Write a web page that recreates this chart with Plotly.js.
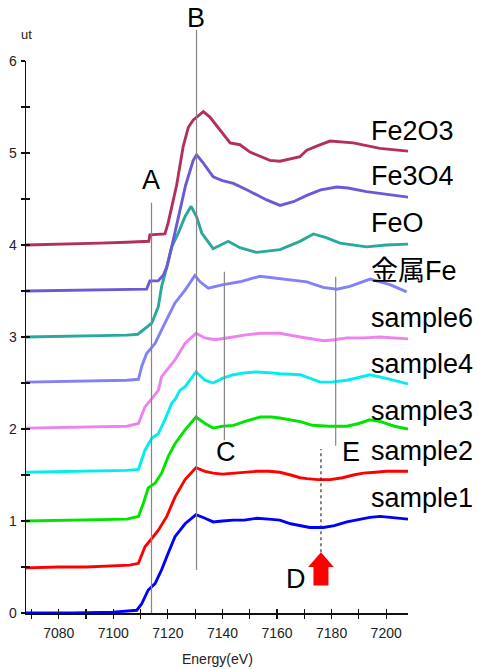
<!DOCTYPE html>
<html>
<head>
<meta charset="utf-8">
<script src="https://cdn.plot.ly/plotly-3.0.1.min.js"></script>
<style>html,body{margin:0;padding:0;background:#fff;}#chart{width:478px;height:669px;}</style>
</head>
<body>
<div id="chart"></div>
<script>
// ---- data ----
const seriesNames = ["sample1","sample2","sample3","sample4","sample6","金属Fe","FeO","Fe3O4","Fe2O3"];

const sample1E = [7068,7085,7100,7108.6,7110.4,7112.8,7115.3,7117.7,7120.1,7122.6,7126.3,7130.3,7133.6,7136.6,7140,7144,7148,7152.6,7157,7161,7165,7168.5,7172,7177,7181,7185.6,7190,7194,7197.8,7202,7208];
const sample1Y = [0.00,0.00,0.01,0.03,0.10,0.25,0.32,0.47,0.65,0.83,0.97,1.07,1.03,0.99,1.00,1.01,1.01,1.03,1.02,1.01,0.97,0.95,0.93,0.93,0.95,0.99,1.02,1.04,1.05,1.04,1.02];

const sample2E = [7068,7080,7090,7100,7106,7109.2,7111.6,7114.1,7116.5,7119.6,7122.6,7126.3,7130.3,7133.6,7136.6,7140,7144,7148,7152.6,7157,7161,7165,7168.5,7171,7175,7179.5,7184,7188,7191.6,7196,7200,7204,7208];
const sample2Y = [0.49,0.50,0.50,0.51,0.52,0.54,0.72,0.81,0.90,1.05,1.26,1.45,1.58,1.54,1.52,1.51,1.52,1.53,1.54,1.54,1.53,1.50,1.47,1.46,1.45,1.45,1.47,1.50,1.52,1.53,1.54,1.54,1.54];

const sample3E = [7068,7090,7105,7109.2,7111.0,7112.8,7115.3,7117.7,7120.1,7122.6,7126.3,7130.3,7133.6,7136.6,7140,7144,7148,7153.9,7158,7161,7165,7168.5,7173,7179,7185.6,7190,7194,7198,7203,7208];
const sample3Y = [1.00,1.01,1.02,1.05,1.19,1.36,1.41,1.52,1.70,1.84,1.99,2.13,2.06,2.01,2.03,2.04,2.08,2.13,2.13,2.12,2.10,2.08,2.04,2.03,2.03,2.06,2.10,2.08,2.03,2.00];

const sample4E = [7068,7090,7105,7109.2,7110.4,7111.6,7114.1,7116.5,7118.9,7121.4,7122.6,7124.4,7126.3,7130.3,7133.6,7136.6,7140,7144,7148,7152.6,7158,7161,7168.5,7172,7175.8,7180,7185.6,7190,7194,7200,7208];
const sample4Y = [1.53,1.54,1.55,1.56,1.66,1.77,1.90,1.95,2.10,2.28,2.32,2.42,2.46,2.62,2.53,2.50,2.55,2.59,2.61,2.62,2.61,2.60,2.59,2.55,2.51,2.51,2.53,2.56,2.59,2.55,2.49];

const sample6E = [7068,7090,7105,7109.2,7110.4,7111.6,7114.1,7116.5,7117.7,7122.6,7126.3,7130.3,7133.6,7137.3,7144,7148,7153.9,7161,7168.5,7173,7177,7181,7185.6,7192,7197.7,7208];
const sample6Y = [2.01,2.02,2.03,2.06,2.15,2.24,2.33,2.42,2.57,2.75,2.93,3.04,2.99,2.97,3.00,3.02,3.04,3.04,3.00,2.98,2.96,2.97,2.99,2.99,3.00,2.98];

const feMetalE = [7068,7090,7105,7109.2,7110.4,7112.2,7115.3,7118.9,7122.6,7126.3,7129.9,7131.8,7134.8,7140.3,7146.4,7153.7,7162.3,7170.9,7176.9,7181.9,7186.7,7194.1,7201.4,7207.5];
const feMetalY = [2.51,2.52,2.53,2.54,2.68,2.82,2.93,3.15,3.37,3.51,3.67,3.60,3.53,3.57,3.60,3.66,3.63,3.60,3.54,3.52,3.55,3.63,3.57,3.49];

const feOE = [7068,7090,7105,7109,7111.6,7114.1,7116.5,7117.7,7119.6,7121.4,7123.8,7126.3,7128.5,7130.5,7132.4,7136.6,7142.1,7146.4,7152.5,7161.1,7168.4,7173.3,7178,7183.1,7192.8,7200,7208];
const feOY = [3.00,3.01,3.02,3.03,3.09,3.15,3.33,3.55,3.76,3.98,4.13,4.31,4.42,4.31,4.13,3.96,4.04,3.97,3.92,3.95,4.04,4.12,4.08,4.02,3.98,4.00,4.01];

const fe3o4E = [7068,7090,7105,7112.2,7113.4,7116.4,7118.3,7119.6,7121.4,7123.8,7126.5,7129.3,7130.5,7133,7136.6,7140,7144,7148.9,7156.2,7161.1,7166,7170.9,7176,7181.9,7186,7192.8,7200,7208];
const fe3o4Y = [3.50,3.51,3.52,3.52,3.61,3.61,3.67,3.76,3.98,4.31,4.65,4.92,4.98,4.89,4.74,4.70,4.67,4.60,4.49,4.43,4.47,4.54,4.60,4.63,4.62,4.58,4.55,4.52];

const fe2o3E = [7068,7085,7095,7105,7113,7113.4,7118.9,7120.1,7121.4,7123.2,7125.6,7127.5,7129.3,7133,7135.4,7139.1,7142.8,7146.4,7150.1,7157.4,7161.1,7168.4,7170.9,7175,7179.4,7187.9,7197.7,7208];
const fe2o3Y = [4.00,4.01,4.02,4.03,4.04,4.11,4.12,4.24,4.42,4.65,5.07,5.28,5.36,5.45,5.39,5.25,5.11,5.09,5.01,4.92,4.91,4.96,5.03,5.08,5.13,5.11,5.05,5.02];

const seriesE = [sample1E,sample2E,sample3E,sample4E,sample6E,feMetalE,feOE,fe3o4E,fe2o3E];
const seriesY = [sample1Y,sample2Y,sample3Y,sample4Y,sample6Y,feMetalY,feOY,fe3o4Y,fe2o3Y];
const seriesColors = ["#0000ff","#ff0000","#00e400","#00eeee","#ee82ee","#8282f8","#2aa89c","#6a5ad6","#b3305e"];

// marker energies (eV)
const markA = 7114.0, markB = 7130.5, markC = 7140.7, markD = 7176.1, markE = 7181.5;
const xTickVals = [7080,7100,7120,7140,7160,7180,7200];
const yTickVals = [0,1,2,3,4,5,6];

// ---- traces ----
const traces = seriesNames.map((n,i)=>({
  type:'scatter', mode:'lines', name:n, x:seriesE[i], y:seriesY[i],
  line:{color:seriesColors[i], width:2.9}, hoverinfo:'skip', cliponaxis:true
}));
// invisible trace to activate overlay axes for the inner half of the ticks
traces.push({type:'scatter', mode:'lines', x:sample1E, y:sample1Y, xaxis:'x2', yaxis:'y2',
  line:{color:'rgba(0,0,0,0)', width:0}, hoverinfo:'skip', showlegend:false});

const tickFont = {family:'Liberation Sans, Arial, sans-serif', size:14, color:'#222'};
const bigFont = {family:'Liberation Sans, Arial, Noto Sans CJK JP, sans-serif', size:27, color:'#000'};

// labels positions (paper)
const labelYs = [0.2083,0.2935,0.366,0.451,0.5344,0.6196,0.7065,0.792,0.873];
const annotations = seriesNames.map((n,i)=>({
  text:n, xref:'paper', yref:'paper', x:0.9005, y:labelYs[i], xanchor:'left', yanchor:'middle',
  showarrow:false, font:bigFont, borderpad:0
}));
const letters = [["A",markA-0.2,0.7844],["B",markB-0.2,1.078],["C",markC+0.6,0.2917],["D",7166.9,0.0616],["E",7187.1,0.2917]];
letters.forEach(l=>annotations.push({text:l[0], xref:'x', yref:'paper', x:l[1], y:l[2], xanchor:'center', yanchor:'middle', showarrow:false, font:bigFont, borderpad:0}));
annotations.push({text:'ut', xref:'paper', yref:'paper', x:0.0, y:1.048, xanchor:'center', yanchor:'middle', showarrow:false, font:{family:'Liberation Sans, Arial, sans-serif', size:13, color:'#222'}});
annotations.push({text:'Energy(eV)', xref:'paper', yref:'paper', x:0.5, y:-0.083, xanchor:'center', yanchor:'middle', showarrow:false, font:{family:'Liberation Sans, Arial, sans-serif', size:14, color:'#222'}});

const grayLine = {color:'#858585', width:1.2};
const shapes = [
  {type:'line', xref:'x', yref:'paper', x0:markA, x1:markA, y0:0, y1:0.743, line:grayLine},
  {type:'line', xref:'x', yref:'paper', x0:markB, x1:markB, y0:0.078, y1:1.056, line:grayLine},
  {type:'line', xref:'x', yref:'paper', x0:markC, x1:markC, y0:0.313, y1:0.618, line:grayLine},
  {type:'line', xref:'x', yref:'paper', x0:markE, x1:markE, y0:0.303, y1:0.609, line:grayLine},
  {type:'line', xref:'x', yref:'paper', x0:markD, x1:markD, y0:0.11, y1:0.297, line:{color:'#333', width:1.2, dash:'3px,3px'}},
];
// red arrow (up) below marker D
const hw = 4.7, sw = 2.75, yTip = 0.66, yHead = 0.50, yBot = 0.30;
shapes.push({type:'path', xref:'x', yref:'y', fillcolor:'#ff0000', line:{width:0},
  path:`M ${markD-sw} ${yBot} L ${markD-sw} ${yHead} L ${markD-hw} ${yHead} L ${markD} ${yTip} L ${markD+hw} ${yHead} L ${markD+sw} ${yHead} L ${markD+sw} ${yBot} Z`});

const layout = {
  width:478, height:669,
  margin:{l:26, r:70, t:61, b:56},
  paper_bgcolor:'#fff', plot_bgcolor:'#fff',
  showlegend:false,
  xaxis:{range:[7068,7208], showgrid:false, zeroline:false, showline:true, linecolor:'#111', linewidth:1.5,
    tickmode:'array', tickvals:xTickVals, ticks:'outside', ticklen:4, tickcolor:'#111', tickwidth:1.2,
    tickfont:tickFont, ticklabelstandoff:3,
    minor:{dtick:10, tick0:7070, ticks:'outside', ticklen:4, tickcolor:'#111', tickwidth:1.2, showgrid:false}},
  yaxis:{range:[0,6], showgrid:false, zeroline:false, showline:true, linecolor:'#111', linewidth:1.5,
    tickmode:'array', tickvals:yTickVals, ticks:'outside', ticklen:4, tickcolor:'#111', tickwidth:1.2,
    tickfont:tickFont, ticklabelstandoff:1,
    minor:{dtick:0.5, tick0:0, ticks:'outside', ticklen:4, tickcolor:'#111', tickwidth:1.2, showgrid:false}},
  xaxis2:{range:[7068,7208], overlaying:'x', anchor:'y2', side:'bottom', showgrid:false, zeroline:false, showline:false,
    tick0:7070, dtick:10, ticks:'inside', ticklen:4, tickcolor:'#111', tickwidth:1.2, showticklabels:false},
  yaxis2:{range:[0,6], overlaying:'y', anchor:'x2', side:'left', showgrid:false, zeroline:false, showline:false,
    tick0:0, dtick:0.5, ticks:'inside', ticklen:4, tickcolor:'#111', tickwidth:1.2, showticklabels:false},
  annotations:annotations,
  shapes:shapes
};

Plotly.newPlot('chart', traces, layout, {staticPlot:true, displayModeBar:false});
</script>
</body>
</html>
